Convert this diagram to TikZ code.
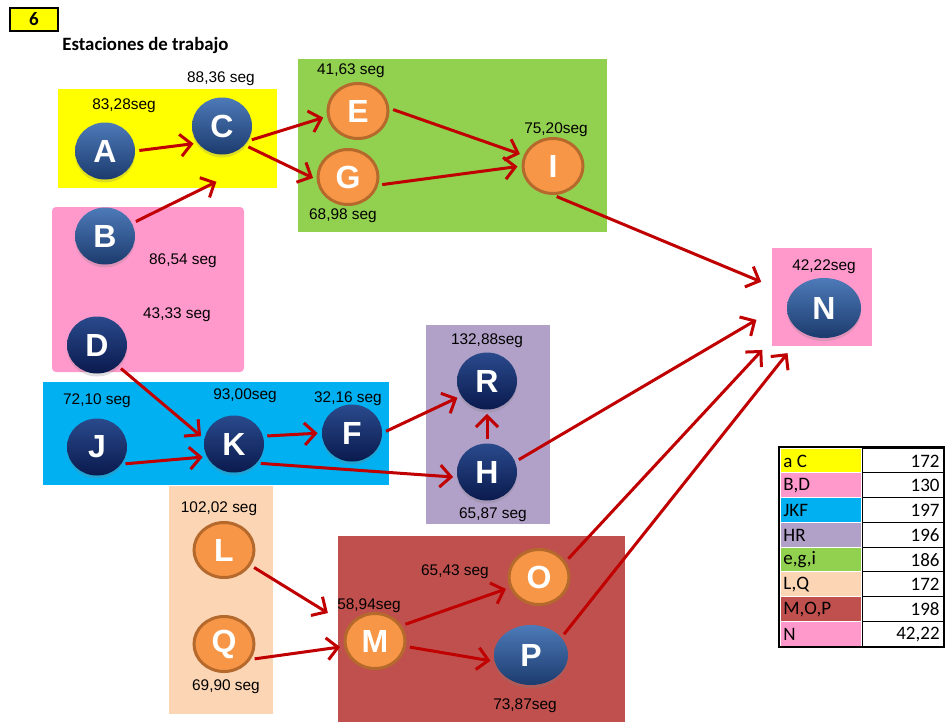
\documentclass[tikz,border=0pt]{standalone}
\usepackage{fontspec}
\setmainfont{Liberation Sans}
\newfontfamily\calibri{Carlito}
\usetikzlibrary{arrows.meta,shapes.geometric,shadows}
\definecolor{Am}{HTML}{FFFF00}
\definecolor{Ro}{HTML}{FF99CC}
\definecolor{Ve}{HTML}{92D050}
\definecolor{Ce}{HTML}{00B0F0}
\definecolor{Li}{HTML}{B1A0C7}
\definecolor{Du}{HTML}{FCD5B4}
\definecolor{Gr}{HTML}{C0504D}
\definecolor{Fl}{HTML}{C00000}
\definecolor{Na}{HTML}{F79646}
\definecolor{NaB}{HTML}{B5692C}
\definecolor{AzA}{HTML}{4D7AB8}
\definecolor{AzB}{HTML}{1C3B6E}
\definecolor{OsA}{HTML}{2A4A8C}
\definecolor{OsB}{HTML}{0A1A4E}

\tikzset{
  bola/.style={ellipse, minimum width=30pt, minimum height=28.5pt, inner sep=0pt,
    top color=AzA, bottom color=AzB, text=white,
    drop shadow={opacity=0.25, shadow xshift=0pt, shadow yshift=-1.5pt},
    font=\fontsize{16}{16}\selectfont\bfseries},
  bolaosc/.style={bola, top color=OsA, bottom color=OsB},
  bolaancha/.style={bola, minimum width=37pt, minimum height=30pt},
  naranja/.style={ellipse, minimum width=30pt, minimum height=27.5pt, inner sep=0pt,
    fill=Na, draw=NaB, line width=1.5pt, text=white,
    font=\fontsize{16}{16}\selectfont\bfseries},
  seg/.style={font=\fontsize{7.7}{9}\selectfont, inner sep=0pt},
  celda/.style={font=\calibri\fontsize{9.5}{10}\selectfont, inner sep=0pt},
  flecha/.style={Fl, line width=1.5pt, -{Straight Barb[length=5.5pt,width=11pt]},
    shorten <=2pt, shorten >=2pt},
}

\begin{document}
\begin{tikzpicture}[x=0.5pt, y=-0.5pt]
  \useasboundingbox (0,0) rectangle (946,722);

  % encabezado
  \draw[fill=Am, line width=1pt] (10,8) rectangle (58,31);
  \node[font=\calibri\bfseries\fontsize{9.5}{10}\selectfont] (num) at (34,19.5) {6};
  \node[font=\calibri\bfseries\fontsize{9.4}{10}\selectfont, anchor=west, inner sep=0pt] (titulo) at (62,45) {Estaciones de trabajo};

  % estaciones
  \fill[Am] (58,89) rectangle (277,188);
  \fill[Ro, rounded corners=2pt] (52,207) rectangle (244,372);
  \fill[Ve] (298,59) rectangle (607,232);
  \fill[Ro] (772,248) rectangle (872,346);
  \fill[Ce] (43,382) rectangle (389,485);
  \fill[Li] (426,325) rectangle (550,524);
  \fill[Du] (169,486) rectangle (273,714);
  \fill[Gr] (338,536) rectangle (625,722);

  % tareas
  \node[bola] (A) at (105,151) {A};
  \node[bola] (C) at (222,126) {C};
  \node[bola] (B) at (105,236) {B};
  \node[bolaosc] (D) at (97,345) {D};
  \node[bolaosc] (J) at (97,447) {J};
  \node[bolaosc] (K) at (234,444) {K};
  \node[bolaosc] (F) at (352,433) {F};
  \node[bolaosc] (R) at (487,381) {R};
  \node[bolaosc] (H) at (487,472) {H};
  \node[bolaancha] (N) at (824,308) {N};
  \node[bolaancha] (P) at (531,655) {P};
  \node[naranja] (E) at (358,111) {E};
  \node[naranja] (G) at (348,177) {G};
  \node[naranja] (I) at (553,166) {I};
  \node[naranja] (L) at (224,550) {L};
  \node[naranja] (Q) at (224,644) {Q};
  \node[naranja] (M) at (375,641) {M};
  \node[naranja] (O) at (539,577) {O};

  % tiempos
  \node[seg] (tA) at (124,106) {83,28seg};
  \node[seg] (tC) at (221,79) {88,36 seg};
  \node[seg] (tB) at (183,261) {86,54 seg};
  \node[seg] (tD) at (177,315) {43,33 seg};
  \node[seg] (tE) at (351,71) {41,63 seg};
  \node[seg] (tG) at (343,216) {68,98 seg};
  \node[seg] (tI) at (556,130) {75,20seg};
  \node[seg] (tN) at (824,267) {42,22seg};
  \node[seg] (tJ) at (97,401) {72,10 seg};
  \node[seg] (tK) at (245,396) {93,00seg};
  \node[seg] (tF) at (348,399) {32,16 seg};
  \node[seg] (tR) at (487,341) {132,88seg};
  \node[seg] (tH) at (493,515) {65,87 seg};
  \node[seg] (tL) at (219,509) {102,02 seg};
  \node[seg] (tQ) at (226,687) {69,90 seg};
  \node[seg] (tO) at (455,572) {65,43 seg};
  \node[seg] (tM) at (369,606) {58,94seg};
  \node[seg] (tP) at (525,706) {73,87seg};

  % precedencias
  \coordinate (bajoC) at (220,180);
  \coordinate (bajoN1) at (765,347);
  \coordinate (bajoN2) at (790,350);
  \draw[flecha] (A.east) -- (C.215);
  \draw[flecha] (B.25) -- (bajoC);
  \draw[flecha] (C.-30) -- (E.190);
  \draw[flecha] (C.-40) -- (G.185);
  \draw[flecha] (E.5) -- (I.160);
  \draw[flecha] (G.-15) -- (I.west);
  \draw[flecha, shorten >=16pt] (I.south) -- (N);
  \draw[flecha] (D.-45) -- (K.170);
  \draw[flecha] (J.-35) -- (K.205);
  \draw[flecha] (K.15) -- (F.west);
  \draw[flecha] (K.-40) -- (H.190);
  \draw[flecha] (F.east) -- (R.210);
  \draw[flecha] (H.north) -- (R.south);
  \draw[flecha, shorten >=18pt] (H.20) -- (N.170);
  \draw[flecha, shorten >=12pt] (L.-30) -- (M.150);
  \draw[flecha] (Q.-30) -- (M.190);
  \draw[flecha] (M.30) -- (O.200);
  \draw[flecha] (M.-10) -- (P.190);
  \draw[flecha] (O.30) -- (bajoN1);
  \draw[flecha] (P.30) -- (bajoN2);

  % tabla resumen
  \foreach \t/\v/\c [count=\i] in {a C/172/Am, {B,D}/130/Ro, JKF/197/Ce, HR/196/Li,
      {e,g,i}/186/Ve, {L,Q}/172/Du, {M,O,P}/198/Gr, N/{42,22}/Ro} {
    \pgfmathsetmacro\ya{448+(\i-1)*24.75}
    \fill[\c] (781,{\ya+0.5}) rectangle (861,{\ya+24.25});
    \draw[line width=0.4pt] (862,\ya) rectangle (944,{\ya+24.75});
    \node[celda, anchor=west] (t\i) at (783,{\ya+13}) {\t};
    \node[celda, anchor=east] (v\i) at (940,{\ya+13}) {\v};
  }
  \draw[line width=1.2pt] (779,447) rectangle (944,647);
\end{tikzpicture}
\end{document}
